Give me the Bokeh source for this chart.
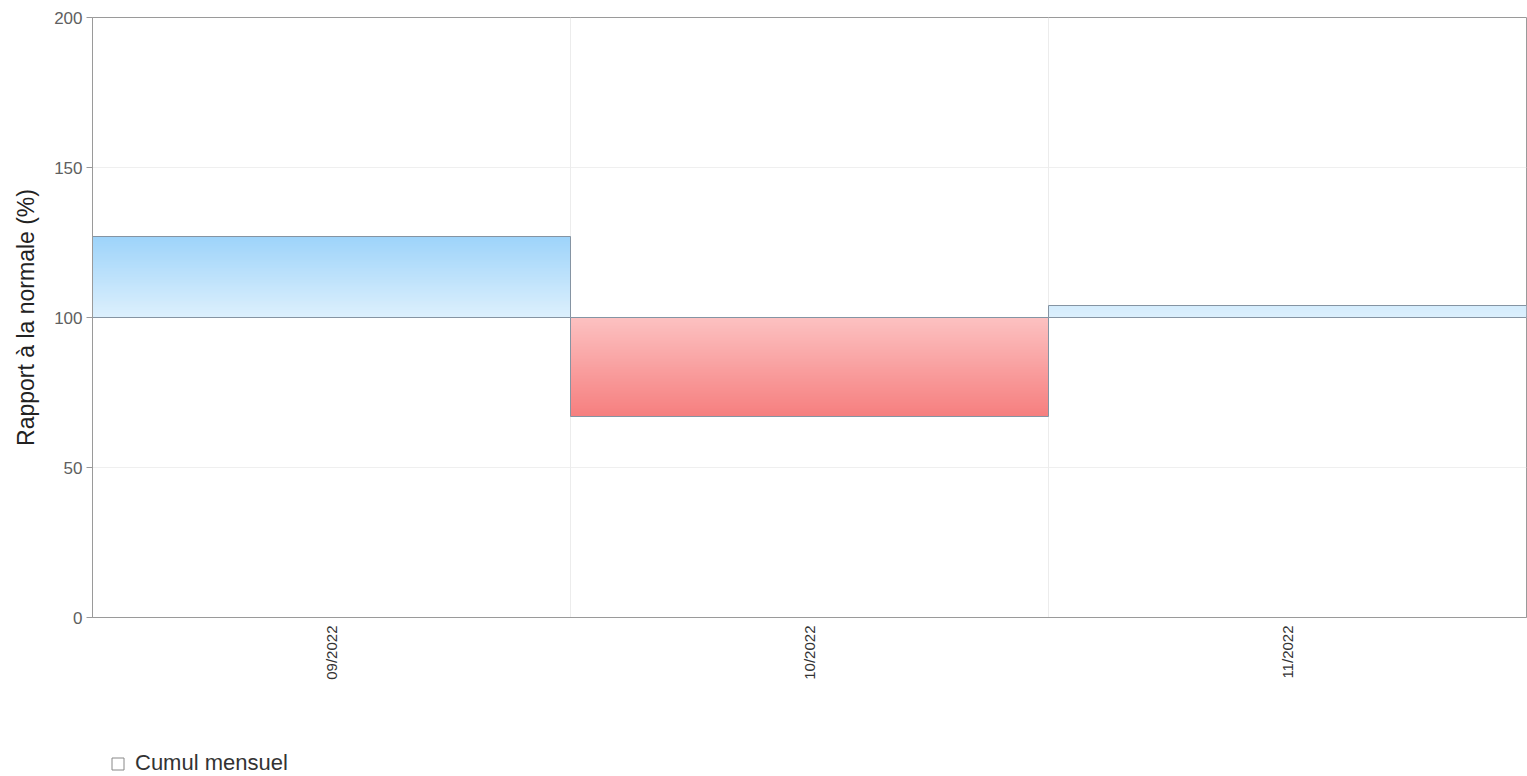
from bokeh.plotting import figure
from bokeh.layouts import column
from bokeh.models import (Range1d, FixedTicker, Grid, Legend, LegendItem, ColumnDataSource)
from bokeh.embed import file_html
from bokeh.resources import INLINE

# ---- data ----
months = ["09/2022", "10/2022", "11/2022"]
ratio = [127, 67, 104]          # rapport à la normale (%)
baseline = 100
y_ticks = [0, 50, 100, 150, 200]
legend_label = "Cumul mensuel"

# ---- helpers (styling only) ----
def hex2rgb(h):
    h = h.lstrip("#")
    return tuple(int(h[i:i + 2], 16) for i in (0, 2, 4))

def mix(c1, c2, t):
    a, b = hex2rgb(c1), hex2rgb(c2)
    return "#%02x%02x%02x" % tuple(int(round(a[k] + (b[k] - a[k]) * t)) for k in range(3))

BLUE_LIGHT, BLUE_DARK = "#ddf0fd", "#96d0f9"
RED_LIGHT, RED_DARK = "#fcc2c2", "#f67e7e"

W = 1527
p = figure(width=W, height=700, output_backend="svg", toolbar_location=None,
           x_range=Range1d(0, len(months)), y_range=Range1d(0, 200),
           min_border_left=92, min_border_top=17, min_border_right=1,
           min_border_bottom=83)
p.background_fill_color = "white"
p.border_fill_color = "white"
p.outline_line_color = "#9a9a9a"
p.outline_line_width = 1

# gradient strips
left, right, bot, top, cols = [], [], [], [], []
step = 0.5
for i, v in enumerate(ratio):
    lo, hi = min(v, baseline), max(v, baseline)
    y = lo
    while y < hi - 1e-9:
        y2 = min(y + step, hi)
        mid = (y + y2) / 2
        if v >= baseline:
            t = min((mid - baseline) / 30.0, 1.0)
            c = mix(BLUE_LIGHT, BLUE_DARK, t)
        else:
            t = min((baseline - mid) / 33.0, 1.0)
            c = mix(RED_LIGHT, RED_DARK, t)
        left.append(i); right.append(i + 1); bot.append(y); top.append(min(y2 + step, hi)); cols.append(c)
        y = y2
p.quad(left=left, right=right, bottom=bot, top=top, fill_color=cols, line_alpha=0)

# bar outlines
src = ColumnDataSource(dict(l=list(range(len(months))), r=[i + 1 for i in range(len(months))],
                            b=[min(v, baseline) for v in ratio], t=[max(v, baseline) for v in ratio]))
p.quad(left="l", right="r", bottom="b", top="t", source=src, fill_alpha=0,
       line_color="#8594a3", line_width=1)

# axes
p.xaxis.ticker = FixedTicker(ticks=[i + 0.5 for i in range(len(months))])
p.xaxis.major_label_overrides = {i + 0.5: m for i, m in enumerate(months)}
p.xaxis.major_label_orientation = 1.5708
p.xaxis.major_label_text_font = "Liberation Sans"
p.xaxis.major_label_text_font_size = "15px"
p.xaxis.major_label_text_color = "#333333"
p.xaxis.major_tick_out = 0
p.xaxis.major_tick_in = 0
p.xaxis.minor_tick_line_color = None
p.xaxis.axis_line_color = "#9a9a9a"
p.xaxis.major_label_standoff = 8

p.yaxis.ticker = FixedTicker(ticks=y_ticks)
p.yaxis.axis_label = "Rapport à la normale (%)"
p.yaxis.axis_label_text_font = "Liberation Sans"
p.yaxis.axis_label_text_font_size = "23px"
p.yaxis.axis_label_text_font_style = "normal"
p.yaxis.axis_label_text_color = "#222222"
p.yaxis.axis_label_standoff = 12
p.yaxis.major_label_text_font = "Liberation Sans"
p.yaxis.major_label_text_font_size = "17px"
p.yaxis.major_label_text_color = "#606060"
p.yaxis.major_tick_out = 6
p.yaxis.major_tick_in = 0
p.yaxis.major_tick_line_color = "#9a9a9a"
p.yaxis.minor_tick_line_color = None
p.yaxis.axis_line_color = "#9a9a9a"
p.yaxis.major_label_standoff = 4

# grids
p.xgrid.grid_line_color = None
p.ygrid.grid_line_color = "#efefef"
p.add_layout(Grid(dimension=0, ticker=FixedTicker(ticks=list(range(1, len(months)))),
                  grid_line_color="#ececec"))

# legend strip (unchecked series toggle) in its own small figure
lg = figure(width=W, height=76, output_backend="svg", toolbar_location=None,
            x_range=Range1d(0, 1), y_range=Range1d(0, 1),
            x_axis_type=None, y_axis_type=None,
            min_border_left=0, min_border_right=0, min_border_top=0, min_border_bottom=0)
lg.outline_line_color = None
lg.xgrid.grid_line_color = None
lg.ygrid.grid_line_color = None
dummy = lg.quad(left=[-3], right=[-2], bottom=[-3], top=[-2], fill_color="white",
                line_color="#888888", line_width=1)
leg = Legend(items=[LegendItem(label=legend_label, renderers=[dummy])],
             location=(18, 0), orientation="horizontal",
             label_text_font="Liberation Sans", label_text_font_size="22px",
             label_text_color="#333333", background_fill_alpha=0, label_standoff=10,
             border_line_alpha=0, glyph_width=15, glyph_height=15, padding=0, spacing=0,
             margin=0)
lg.add_layout(leg, "center")

layout = column(p, lg, spacing=0)
open("out.html", "w").write(file_html(layout, INLINE))
